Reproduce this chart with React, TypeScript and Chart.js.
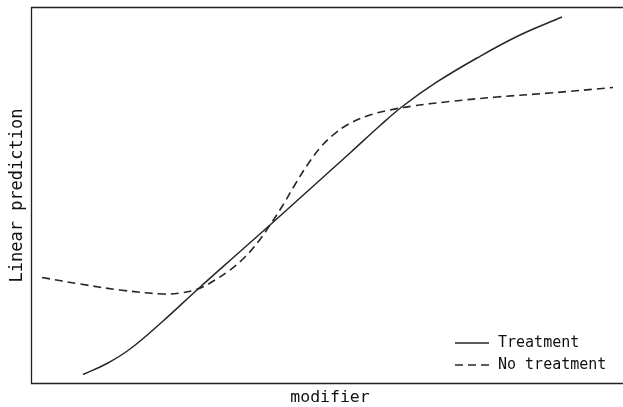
import React, { useEffect, useRef } from "react";
import { Chart, registerables } from "chart.js";

Chart.register(...registerables);

const treatmentX = [8.64, 12.71, 16.61, 22.03, 28.14, 34.41, 40.34, 47.12, 53.9, 59.0, 62.88, 68.64, 75.42, 82.71, 89.83];
const treatmentY = [2.27, 5.2, 9.07, 16.27, 25.07, 33.87, 42.13, 51.73, 61.33, 68.67, 73.87, 80.27, 86.67, 92.8, 97.6];

const noTreatmentX = [1.69, 8.14, 14.92, 22.2, 25.08, 28.14, 31.02, 33.56, 36.1, 38.31, 40.34, 42.54, 44.58, 46.78, 48.81, 51.02, 53.39, 56.78, 60.68, 64.58, 70.85, 78.81, 87.8, 98.47];
const noTreatmentY = [28.13, 26.4, 24.8, 23.73, 24.0, 25.07, 27.47, 30.13, 33.6, 37.6, 42.13, 47.47, 52.93, 58.4, 62.67, 66.13, 68.8, 71.2, 72.8, 73.87, 75.07, 76.27, 77.33, 78.8];

const seriesNames = ["Treatment", "No treatment"];
const xTitle = "modifier";
const yTitle = "Linear prediction";

const LINE = "#262626";
const DASH = [8, 5];
const FONT = '"DejaVu Sans Mono", monospace';

const toPoints = (xs: number[], ys: number[]) => xs.map((x, i) => ({ x, y: ys[i] }));

const decorPlugin = {
  id: "decor",
  afterDraw(chart: any) {
    const { ctx, chartArea } = chart;
    const { left, right, top, bottom } = chartArea;
    ctx.save();
    ctx.strokeStyle = "#222";
    ctx.lineWidth = 1.3;
    ctx.beginPath();
    ctx.moveTo(right + 2, top - 0.5);
    ctx.lineTo(left - 0.5, top - 0.5);
    ctx.lineTo(left - 0.5, bottom + 0.5);
    ctx.lineTo(right + 2, bottom + 0.5);
    ctx.stroke();

    ctx.fillStyle = "#111";
    ctx.font = `16.5px ${FONT}`;
    ctx.textAlign = "center";
    ctx.textBaseline = "middle";
    ctx.fillText(xTitle, (left + right) / 2 + 3, 398);
    ctx.save();
    ctx.translate(18, (top + bottom) / 2);
    ctx.rotate(-Math.PI / 2);
    ctx.font = `17px ${FONT}`;
    ctx.fillText(yTitle, 0, 0);
    ctx.restore();

    ctx.font = `15px ${FONT}`;
    ctx.textAlign = "left";
    const rows = [343, 365];
    rows.forEach((yy, i) => {
      ctx.strokeStyle = LINE;
      ctx.lineWidth = 1.5;
      ctx.setLineDash(i === 0 ? [] : DASH);
      ctx.beginPath();
      ctx.moveTo(455, yy);
      ctx.lineTo(489, yy);
      ctx.stroke();
      ctx.setLineDash([]);
      ctx.fillText(seriesNames[i], 498, yy);
    });
    ctx.restore();
  },
};

export default function App() {
  const ref = useRef<HTMLCanvasElement>(null);
  useEffect(() => {
    if (!ref.current) return;
    const chart = new Chart(ref.current, {
      type: "scatter",
      data: {
        datasets: [
          {
            label: seriesNames[0],
            data: toPoints(treatmentX, treatmentY),
            showLine: true,
            borderColor: LINE,
            borderWidth: 1.5,
            pointRadius: 0,
            tension: 0.4,
          },
          {
            label: seriesNames[1],
            data: toPoints(noTreatmentX, noTreatmentY),
            showLine: true,
            borderColor: LINE,
            borderWidth: 1.6,
            borderDash: DASH,
            pointRadius: 0,
            tension: 0.4,
          },
        ],
      },
      options: {
        animation: false,
        responsive: false,
        layout: { padding: { left: 32, top: 8, right: 1, bottom: 24 } },
        plugins: { legend: { display: false }, tooltip: { enabled: false } },
        scales: {
          x: { type: "linear", min: 0, max: 100, display: false },
          y: { type: "linear", min: 0, max: 100, display: false },
        },
      },
      plugins: [decorPlugin],
    } as any);
    return () => chart.destroy();
  }, []);
  return (
    <div style={{ position: "fixed", left: 0, top: 0, width: 623, height: 407, background: "#fff" }}>
      <canvas ref={ref} width={623} height={407} style={{ width: 623, height: 407 }} />
    </div>
  );
}
